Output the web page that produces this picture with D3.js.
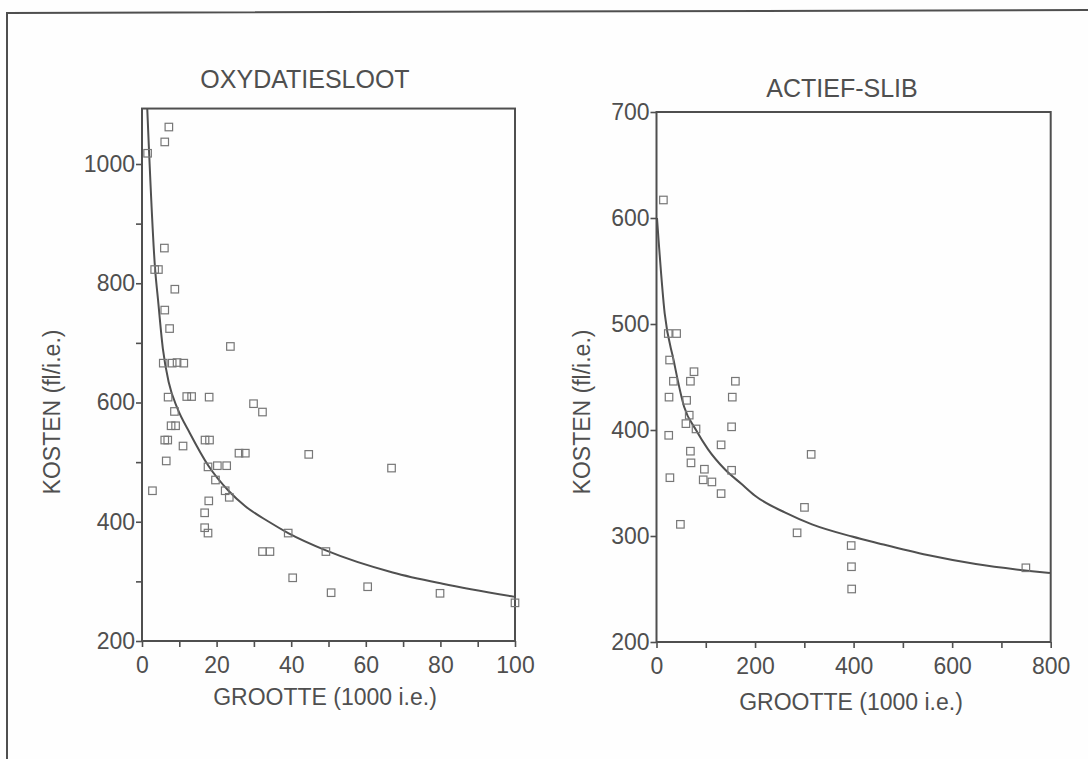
<!DOCTYPE html>
<html>
<head>
<meta charset="utf-8">
<script src="https://cdn.jsdelivr.net/npm/d3@7"></script>
<style>
  html, body { margin: 0; padding: 0; background: #fefefe; }
  svg { display: block; }
  text { font-family: "Liberation Sans", Arial, sans-serif; fill: #4f4f4f; }
</style>
</head>
<body>
<svg id="chart" width="1088" height="759"></svg>
<script>
// Oxydatiesloot plants: size (1000 i.e.) and cost (fl/i.e.)
const oxSize = [7.2, 6.1, 1.5, 6.0, 3.4, 4.4, 8.8, 6.1, 7.4, 23.7, 5.7, 8.1, 9.4, 11.2,
  7.0, 12.0, 13.3, 18.0, 29.9, 32.3, 8.7, 7.8, 9.0, 6.1, 6.9, 16.9, 18.1, 11.0,
  6.5, 26.0, 27.7, 44.7, 17.7, 20.2, 22.7, 19.7, 2.8, 22.3, 23.4, 17.9, 16.8, 16.8,
  17.7, 39.2, 32.3, 34.3, 49.3, 66.9, 40.4, 50.7, 60.5, 79.9, 100];
const oxCost = [1062, 1037, 1018, 859, 823, 823, 790, 755, 724, 694, 666, 666, 667, 666,
  609, 610, 610, 609, 598, 584, 585, 561, 561, 537, 537, 537, 537, 527,
  502, 515, 515, 513, 492, 494, 494, 470, 452, 452, 441, 435, 415, 390,
  381, 381, 350, 350, 350, 490, 306, 281, 291, 280, 264];
// fitted cost curve, oxydatiesloot
const oxFitSize = [1.4, 3.5, 4.3, 5.6, 7.2, 9.5, 12.8, 17.8, 23.2, 27.7, 34, 39.2, 49.3, 67.2, 80.6, 100];
const oxFitCost = [1094, 825, 772, 690, 633, 590, 549, 494, 452, 426, 400, 381, 352, 315, 296, 274];

// Actief-slib plants
const asSize = [14.0, 23.9, 40.8, 26.6, 76.1, 34.3, 68.8, 160.1, 25.4, 61.1, 153.8, 66.4,
  59.7, 80.2, 152.4, 24.8, 131.1, 68.8, 70.0, 313.9, 97.2, 152.4, 27.2, 94.8, 112.4,
  131.1, 48.5, 300.3, 285.3, 395.1, 395.7, 396.1, 749.6];
const asCost = [617, 491, 491, 466, 455, 446, 446, 446, 431, 428, 431, 414,
  406, 401, 403, 395, 386, 380, 369, 377, 363, 362, 355, 353, 351,
  340, 311, 327, 303, 291, 271, 250, 270];
// fitted cost curve, actief-slib
const asFitSize = [1, 16.6, 34.7, 56, 80.2, 104.3, 138.6, 172.7, 200, 261.4, 315.5, 396.9, 451.3, 550, 648, 798.5];
const asFitCost = [600, 510, 466, 422, 400, 382, 363, 349, 338, 322, 311, 299.5, 293, 282, 273.5, 265];

// axis ticks
const oxXTicks = [0, 10, 20, 30, 40, 50, 60, 70, 80, 90, 100];
const oxXLabels = [0, 20, 40, 60, 80, 100];
const oxYTicks = [200, 300, 400, 500, 600, 700, 800, 900, 1000];
const oxYLabels = [200, 400, 600, 800, 1000];
const asXTicks = [0, 100, 200, 300, 400, 500, 600, 700, 800];
const asXLabels = [0, 200, 400, 600, 800];
const asYTicks = [200, 300, 400, 500, 600, 700];
const asYLabels = [200, 300, 400, 500, 600, 700];

const titles = ["OXYDATIESLOOT", "ACTIEF-SLIB"];
const xTitle = "GROOTTE (1000 i.e.)";
const yTitle = "KOSTEN (fl/i.e.)";

const ink = "#4f4f4f";
const svg = d3.select("#chart");

// outer frame (top and left edges)
svg.append("path")
  .attr("d", "M7,759 L7,13 L1088,10")
  .attr("fill", "none").attr("stroke", ink).attr("stroke-width", 2);

const panels = [
  { title: titles[0], xs: oxSize, ys: oxCost, fx: oxFitSize, fy: oxFitCost,
    xDom: [0, 100], xRange: [142, 515], yDom: [200, 1000], yRange: [641, 164], yTop: 1093,
    xTicks: oxXTicks, xLabels: oxXLabels, yTicks: oxYTicks, yLabels: oxYLabels,
    titleX: 305, titleY: 88, yTitleX: 52, xTitleX: 325, xTitleY: 705 },
  { title: titles[1], xs: asSize, ys: asCost, fx: asFitSize, fy: asFitCost,
    xDom: [0, 800], xRange: [656.5, 1050.7], yDom: [200, 700], yRange: [642, 112], yTop: 700,
    xTicks: asXTicks, xLabels: asXLabels, yTicks: asYTicks, yLabels: asYLabels,
    titleX: 842, titleY: 97, yTitleX: 582, xTitleX: 851, xTitleY: 710 }
];

panels.forEach(p => {
  const x = d3.scaleLinear().domain(p.xDom).range(p.xRange);
  const y = d3.scaleLinear().domain(p.yDom).range(p.yRange);
  const g = svg.append("g");

  const x0 = x(p.xDom[0]), x1 = x(p.xDom[1]);
  const y0 = y(p.yDom[0]), y1 = y(p.yTop);

  // plot box
  g.append("rect")
    .attr("x", x0).attr("y", y1).attr("width", x1 - x0).attr("height", y0 - y1)
    .attr("fill", "none").attr("stroke", ink).attr("stroke-width", 2);

  // axes
  const xAxis = d3.axisBottom(x).tickValues(p.xTicks).tickSize(6).tickPadding(10)
    .tickFormat(d => p.xLabels.includes(d) ? d : "");
  const gx = g.append("g").attr("transform", `translate(0,${y0})`).call(xAxis);
  const yAxis = d3.axisLeft(y).tickValues(p.yTicks).tickSize(6).tickPadding(1)
    .tickFormat(d => p.yLabels.includes(d) ? d : "");
  const gy = g.append("g").attr("transform", `translate(${x0},0)`).call(yAxis);
  [gx, gy].forEach(a => {
    a.select(".domain").remove();
    a.selectAll(".tick line").attr("stroke", ink).attr("stroke-width", 1.6);
    a.selectAll(".tick text").style("font-size", "23px").attr("fill", ink)
      .style("font-family", '"Liberation Sans", Arial, sans-serif');
  });

  // fitted curve
  const pts = p.fx.map((v, i) => [v, p.fy[i]]);
  g.append("path")
    .datum(pts)
    .attr("d", d3.line().x(d => x(d[0])).y(d => y(d[1])).curve(d3.curveMonotoneX))
    .attr("fill", "none").attr("stroke", "#505050").attr("stroke-width", 2);

  // plants
  const s = 7.5;
  g.selectAll("rect.pt")
    .data(p.xs.map((v, i) => [v, p.ys[i]]))
    .join("rect").attr("class", "pt")
    .attr("x", d => x(d[0]) - s / 2).attr("y", d => y(d[1]) - s / 2)
    .attr("width", s).attr("height", s)
    .attr("fill", "none").attr("stroke", "#777").attr("stroke-width", 1.2);

  // titles
  g.append("text").attr("x", p.titleX).attr("y", p.titleY)
    .attr("text-anchor", "middle").style("font-size", "25px").text(p.title);
  g.append("text").attr("x", p.xTitleX).attr("y", p.xTitleY)
    .attr("text-anchor", "middle").style("font-size", "23px").text(xTitle);
  g.append("text")
    .attr("transform", `translate(${p.yTitleX},412) rotate(-90)`)
    .attr("text-anchor", "middle").attr("dy", "0.35em")
    .style("font-size", "23px").text(yTitle);
});
</script>
</body>
</html>
